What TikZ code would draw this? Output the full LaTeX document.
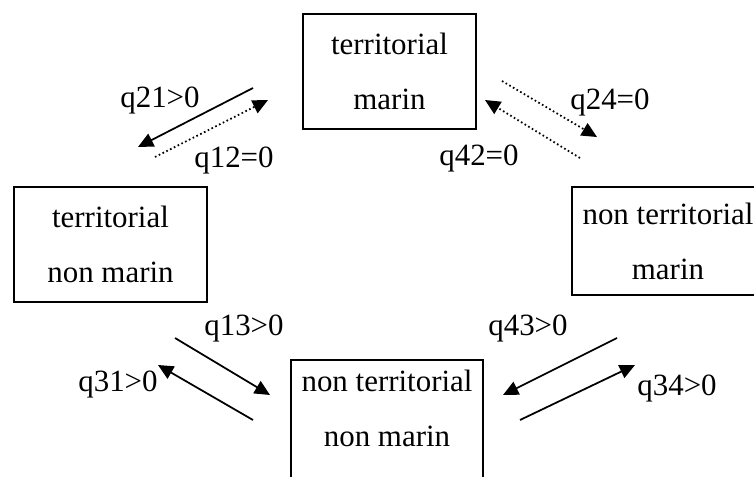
\documentclass[tikz,border=0pt]{standalone}
\usepackage{fontspec}
\setmainfont{Liberation Serif}
\usetikzlibrary{positioning, arrows.meta}
\newcommand{\ratefont}{\fontsize{26.4pt}{47pt}\selectfont}
\tikzset{
    state node/.style={draw, rectangle, line width=1.5pt, align=center, font=\ratefont, inner sep=0pt},
    rate label/.style={font=\ratefont, inner sep=0pt},
    positive rate/.style={-{Triangle[length=13pt, width=12pt]}, line width=1.5pt},
    zero rate/.style={-{Triangle[length=13pt, width=12pt]}, line width=1.5pt, dash pattern=on 1.4pt off 2.2pt},
}

\begin{document}
\begin{tikzpicture}[x=0.03cm, y=-0.03cm]
    \useasboundingbox (0,0) rectangle (754,477);
    \clip (0,0) rectangle (754,477);
    % the four states
    \node[state node, minimum width=5.19cm, minimum height=3.45cm] (tm) at (389.5,71.5) {territorial\\marin};
    \node[state node, minimum width=5.79cm, minimum height=3.45cm] (tnm) at (110.5,244.5) {territorial\\non marin};
    \node[state node, minimum width=5.76cm, minimum height=3.24cm] (ntm) at (668,241) {non territorial\\marin};
    \node[state node, minimum width=5.76cm, anchor=north, inner ysep=0.31cm, text depth=4cm] (ntnm) at (387,359) {non territorial\\non marin};
    % arrow ends
    \foreach \name/\x/\y in {s21/253/88, t21/138/147, s12/155/157, t12/268/100,
                             s24/502/81, t24/597/137, s42/580/158, t42/485/100,
                             s13/175/338, t13/270/395, s31/253/420, t31/158/365,
                             s43/617/338, t43/503/395, s34/520/420, t34/635/365} {
        \coordinate (\name) at (\x,\y);
    }
    \foreach \r in {21, 13, 31, 43, 34} {
        \draw[positive rate] (s\r) -- (t\r);
    }
    \foreach \r in {12, 24, 42} {
        \draw[zero rate] (s\r) -- (t\r);
    }
    % rates
    \foreach \name/\x/\y/\txt in {l21/160/101/q21>0, l12/234/161/q12=0, l24/610/103/q24=0, l42/479/159/q42=0,
                                  l13/244/329/q13>0, l31/118/385/q31>0, l43/528/329/q43>0, l34/677/389/q34>0} {
        \node[rate label] (\name) at (\x,\y) {\txt};
    }
\end{tikzpicture}
\end{document}
